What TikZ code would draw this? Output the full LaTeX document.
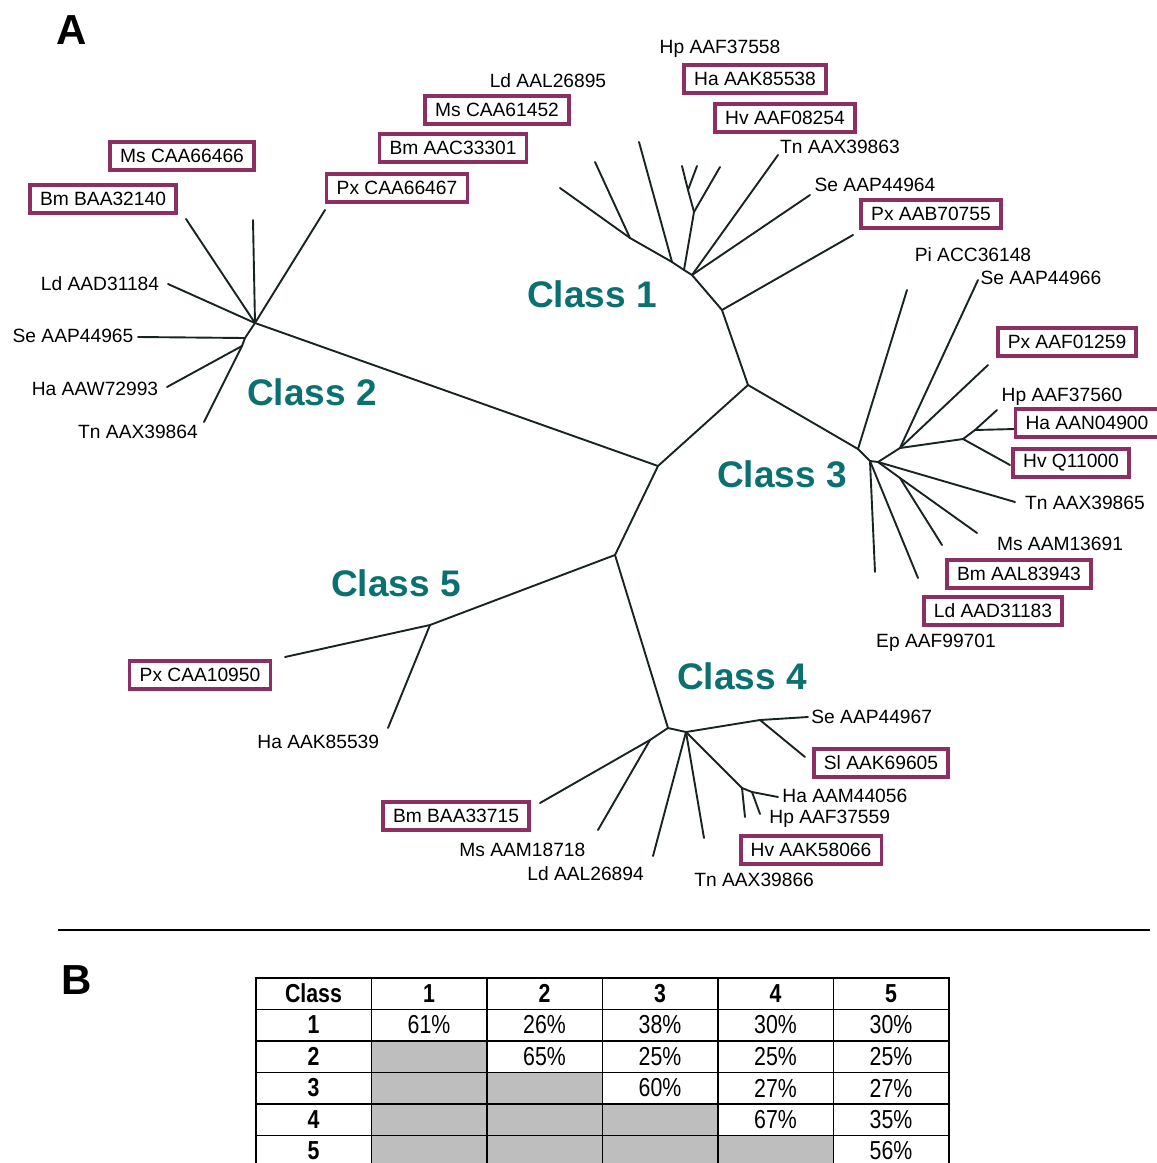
\documentclass[tikz,border=0pt]{standalone}
\usepackage{fontspec}
\setmainfont{Liberation Sans}
\newfontfamily\narrowfont[FakeStretch=0.82]{Liberation Sans}
\definecolor{boxpurple}{RGB}{140,48,100}
\definecolor{classteal}{RGB}{10,112,112}
\definecolor{cellgrey}{RGB}{190,190,190}
\definecolor{treeline}{RGB}{25,35,35}
\begin{document}
\begin{tikzpicture}[x=0.5pt,y=-0.5pt,
  branch/.style={line width=0.95pt, draw=treeline, line cap=round, line join=round},
  lbl/.style={font=\fontsize{9.6}{11}\selectfont, inner sep=0pt},
  boxlbl/.style={lbl, draw=boxpurple, line width=1.8pt, inner xsep=5pt, minimum height=14pt, fill=white},
  classlbl/.style={font=\fontsize{18.5}{20}\selectfont\bfseries, text=classteal, inner sep=0pt},
  panel/.style={font=\fontsize{21}{24}\selectfont\bfseries, inner sep=0pt},
  cell/.style={draw=black, line width=0.75pt, minimum width=57.75pt, minimum height=15.75pt, inner sep=0pt, anchor=north west, font=\narrowfont\fontsize{13}{15}\selectfont}
]
\useasboundingbox (0,0) rectangle (1157,1163);
\clip (0,0) rectangle (1157,1163);
\fill[white] (0,0) rectangle (1157,1163);

% ---------------- panel letters and separator
\node[panel] (pA) at (72,30) {A};
\node[panel] (pB) at (77,980) {B};
\coordinate (sepL) at (58,930);
\coordinate (sepR) at (1150,930);
\draw[line width=1pt] (sepL) -- (sepR);

% ---------------- backbone
\coordinate (C0) at (658,466);
\coordinate (N13) at (748,385);
\coordinate (N1) at (722,310);
\coordinate (N3) at (858,449);
\coordinate (N45) at (615,555);
\coordinate (N2) at (255,323);
\coordinate (N4) at (668,728);
\coordinate (N5) at (430,625);
\draw[branch] (C0) -- (N2);
\draw[branch] (C0) -- (N13);
\draw[branch] (C0) -- (N45);
\draw[branch] (N13) -- (N1);
\draw[branch] (N13) -- (N3);
\draw[branch] (N45) -- (N4);
\draw[branch] (N45) -- (N5);

% ---------------- class 1
\coordinate (J1) at (692,275);
\coordinate (J1a) at (684,270);
\coordinate (Kb) at (672,262);
\coordinate (Ka) at (630,238);
\coordinate (K1) at (694,212);
\coordinate (K2) at (688,190);
\coordinate (l1a) at (560,188);
\coordinate (l1b) at (595,162);
\coordinate (l1c) at (639,142);
\coordinate (l1d) at (682,166);
\coordinate (l1e) at (697,166);
\coordinate (l1f) at (720,167);
\coordinate (l1g) at (778,155);
\coordinate (l1h) at (810,195);
\coordinate (l1i) at (853,235);
\draw[branch] (N1) -- (J1);
\draw[branch] (N1) -- (l1i);
\draw[branch] (J1) -- (l1h);
\draw[branch] (J1) -- (l1g);
\draw[branch] (J1) -- (J1a);
\draw[branch] (J1a) -- (Kb);
\draw[branch] (Kb) -- (Ka);
\draw[branch] (Ka) -- (l1a);
\draw[branch] (Ka) -- (l1b);
\draw[branch] (Kb) -- (l1c);
\draw[branch] (J1a) -- (K1);
\draw[branch] (K1) -- (l1f);
\draw[branch] (K1) -- (K2);
\draw[branch] (K2) -- (l1d);
\draw[branch] (K2) -- (l1e);

\node[lbl] (t1hp) at (720,49) {Hp AAF37558};
\node[boxlbl] (t1ha) at (755,79) {Ha AAK85538};
\node[boxlbl] (t1hv) at (785,118) {Hv AAF08254};
\node[lbl] (t1tn) at (840,147) {Tn AAX39863};
\node[lbl] (t1se) at (875,185) {Se AAP44964};
\node[boxlbl] (t1px) at (931,214) {Px AAB70755};
\node[lbl] (t1ld) at (548,81) {Ld AAL26895};
\node[boxlbl] (t1ms) at (497,110) {Ms CAA61452};
\node[boxlbl] (t1bm) at (453,148) {Bm AAC33301};
\node[classlbl] (cl1) at (592,294) {Class 1};

% ---------------- class 2
\coordinate (S2) at (245,338);
\coordinate (H2) at (242,346);
\coordinate (l2bm) at (186,219);
\coordinate (l2ms) at (253,220);
\coordinate (l2px) at (325,210);
\coordinate (l2ld) at (168,284);
\coordinate (l2se) at (138,337);
\coordinate (l2ha) at (167,387);
\coordinate (l2tn) at (204,422);
\draw[branch] (N2) -- (l2bm);
\draw[branch] (N2) -- (l2ms);
\draw[branch] (N2) -- (l2px);
\draw[branch] (N2) -- (l2ld);
\draw[branch] (N2) -- (S2);
\draw[branch] (S2) -- (H2);
\draw[branch] (H2) -- (l2tn);
\draw[branch] (S2) -- (l2se);
\draw[branch] (H2) -- (l2ha);

\node[boxlbl] (t2px) at (397,188) {Px CAA66467};
\node[boxlbl] (t2ms) at (182,156) {Ms CAA66466};
\node[boxlbl] (t2bm) at (103,199) {Bm BAA32140};
\node[lbl] (t2ld) at (100,284) {Ld AAD31184};
\node[lbl] (t2se) at (73,336) {Se AAP44965};
\node[lbl] (t2ha) at (95,389) {Ha AAW72993};
\node[lbl] (t2tn) at (138,432) {Tn AAX39864};
\node[classlbl] (cl2) at (312,392) {Class 2};

% ---------------- class 3
\coordinate (N3a) at (870,461);
\coordinate (N3b) at (878,462);
\coordinate (N3c) at (900,448);
\coordinate (N3d) at (963,439);
\coordinate (N3e) at (975,430);
\coordinate (F3) at (900,478);
\coordinate (l3pi) at (907,290);
\coordinate (l3se) at (978,280);
\coordinate (l3px) at (988,365);
\coordinate (l3hp) at (997,410);
\coordinate (l3ha) at (1015,429);
\coordinate (l3hv) at (1010,465);
\coordinate (l3tn) at (1015,502);
\coordinate (l3ms) at (977,533);
\coordinate (l3x) at (942,545);
\coordinate (l3bm) at (918,578);
\coordinate (l3ep) at (875,572);
\draw[branch] (N3) -- (l3pi);
\draw[branch] (N3) -- (N3a);
\draw[branch] (N3a) -- (N3b);
\draw[branch] (N3b) -- (N3c);
\draw[branch] (N3c) -- (l3se);
\draw[branch] (N3c) -- (l3px);
\draw[branch] (N3c) -- (N3d);
\draw[branch] (N3d) -- (N3e);
\draw[branch] (N3e) -- (l3hp);
\draw[branch] (N3e) -- (l3ha);
\draw[branch] (N3d) -- (l3hv);
\draw[branch] (N3b) -- (l3tn);
\draw[branch] (N3b) -- (F3);
\draw[branch] (F3) -- (l3ms);
\draw[branch] (F3) -- (l3x);
\draw[branch] (N3a) -- (l3bm);
\draw[branch] (N3a) -- (l3ep);

\node[lbl] (t3pi) at (973,255) {Pi ACC36148};
\node[lbl] (t3se) at (1041,278) {Se AAP44966};
\node[boxlbl] (t3px) at (1067,342) {Px AAF01259};
\node[lbl] (t3hp) at (1062,397) {Hp AAF37560};
\node[boxlbl] (t3ha) at (1087,423) {Ha AAN04900};
\node[boxlbl] (t3hv) at (1071,463) {Hv Q11000};
\node[lbl] (t3tn) at (1085,503) {Tn AAX39865};
\node[lbl] (t3ms) at (1060,544) {Ms AAM13691};
\node[boxlbl] (t3bm) at (1019,574) {Bm AAL83943};
\node[boxlbl] (t3ld) at (993,611) {Ld AAD31183};
\node[lbl] (t3ep) at (936,643) {Ep AAF99701};
\node[classlbl] (cl3) at (782,474) {Class 3};

% ---------------- class 4
\coordinate (N4b) at (686,732);
\coordinate (N4s) at (760,720);
\coordinate (H4) at (742,788);
\coordinate (H4k) at (752,792);
\coordinate (M4) at (650,740);
\coordinate (l4se) at (808,717);
\coordinate (l4sl) at (805,757);
\coordinate (l4hv) at (745,817);
\coordinate (l4ha) at (778,797);
\coordinate (l4hp) at (760,814);
\coordinate (l4tn) at (704,838);
\coordinate (l4ld) at (653,856);
\coordinate (l4ms) at (598,830);
\coordinate (l4bm) at (540,803);
\draw[branch] (N4) -- (N4b);
\draw[branch] (N4b) -- (N4s);
\draw[branch] (N4s) -- (l4se);
\draw[branch] (N4s) -- (l4sl);
\draw[branch] (N4b) -- (H4);
\draw[branch] (H4) -- (l4hv);
\draw[branch] (H4) -- (H4k);
\draw[branch] (H4k) -- (l4ha);
\draw[branch] (H4k) -- (l4hp);
\draw[branch] (N4b) -- (l4tn);
\draw[branch] (N4b) -- (l4ld);
\draw[branch] (N4) -- (M4);
\draw[branch] (M4) -- (l4bm);
\draw[branch] (M4) -- (l4ms);

\node[lbl, anchor=west] (t4se) at (811,717) {Se AAP44967};
\node[boxlbl] (t4sl) at (881,763) {Sl AAK69605};
\node[lbl, anchor=west] (t4ha) at (782,796) {Ha AAM44056};
\node[lbl, anchor=west] (t4hp) at (769,819) {Hp AAF37559};
\node[boxlbl] (t4hv) at (811,850) {Hv AAK58066};
\node[lbl, anchor=west] (t4tn) at (694,880) {Tn AAX39866};
\node[lbl, anchor=west] (t4ld) at (527,874) {Ld AAL26894};
\node[lbl, anchor=west] (t4ms) at (459,850) {Ms AAM18718};
\node[boxlbl] (t4bm) at (456,816) {Bm BAA33715};
\node[classlbl] (cl4) at (742,676) {Class 4};

% ---------------- class 5
\coordinate (l5px) at (285,657);
\coordinate (l5ha) at (388,728);
\draw[branch] (N5) -- (l5px);
\draw[branch] (N5) -- (l5ha);
\node[boxlbl] (t5px) at (200,675) {Px CAA10950};
\node[lbl, anchor=west] (t5ha) at (257,742) {Ha AAK85539};
\node[classlbl] (cl5) at (396,583) {Class 5};

% ---------------- table
\foreach \h [count=\c from 0] in {Class,1,2,3,4,5}{
  \node[cell] (t-0-\c) at ({255+\c*115.5},977) {\bfseries\h};
}
\foreach \r/\lst in {1/{61\%,26\%,38\%,30\%,30\%},2/{,65\%,25\%,25\%,25\%},3/{,,60\%,27\%,27\%},4/{,,,67\%,35\%},5/{,,,,56\%}}{
  \node[cell] (t-\r-0) at (255,{977+\r*31.5}) {\bfseries\r};
  \foreach \e [count=\c] in \lst {
    \ifnum\c<\r \def\cellfill{cellgrey}\else\def\cellfill{white}\fi
    \node[cell, fill=\cellfill] (t-\r-\c) at ({255+\c*115.5},{977+\r*31.5}) {\e};
  }
}
\end{tikzpicture}
\end{document}
